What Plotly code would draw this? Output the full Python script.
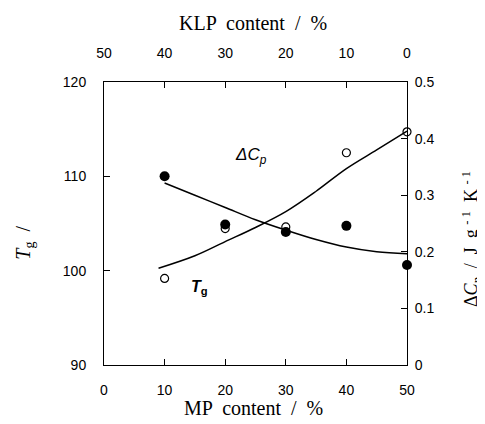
import plotly.graph_objects as go

# Data
mp_content = [10, 20, 30, 40, 50]
tg_values = [110.0, 104.9, 104.1, 104.75, 100.6]
dcp_values = [0.153, 0.241, 0.244, 0.375, 0.412]

# Fitted curves
tg_fit_x = [10, 15, 20, 25, 30, 35, 40, 45, 50]
tg_fit_y = [109.3, 108.0, 106.7, 105.4, 104.3, 103.3, 102.5, 102.0, 101.8]
dcp_fit_x = [9, 15, 20, 25, 30, 35, 40, 45, 50]
dcp_fit_y = [0.171, 0.193, 0.218, 0.243, 0.271, 0.307, 0.347, 0.38, 0.413]

x_ticks = [0, 10, 20, 30, 40, 50]
klp_ticks = [50, 40, 30, 20, 10, 0]
tg_ticks = [90, 100, 110, 120]
dcp_ticks = [0, 0.1, 0.2, 0.3, 0.4, 0.5]
dcp_ticklabels = ["0", "0.1", "0.2", "0.3", "0.4", "0.5"]

fig = go.Figure()

fig.add_trace(go.Scatter(x=tg_fit_x, y=tg_fit_y, mode="lines", line=dict(color="black", width=1.5, shape="spline"),
                         xaxis="x", yaxis="y", showlegend=False, hoverinfo="skip"))
fig.add_trace(go.Scatter(x=dcp_fit_x, y=dcp_fit_y, mode="lines", line=dict(color="black", width=1.5, shape="spline"),
                         xaxis="x", yaxis="y2", showlegend=False, hoverinfo="skip"))
fig.add_trace(go.Scatter(x=mp_content, y=dcp_values, mode="markers",
                         marker=dict(symbol="circle-open", size=8, color="black", line=dict(width=1.2)),
                         xaxis="x", yaxis="y2", showlegend=False, cliponaxis=False))
fig.add_trace(go.Scatter(x=mp_content, y=tg_values, mode="markers",
                         marker=dict(symbol="circle", size=10, color="black"),
                         xaxis="x", yaxis="y", showlegend=False, cliponaxis=False))
# invisible trace to activate top axis
fig.add_trace(go.Scatter(x=klp_ticks, y=[None] * len(klp_ticks), mode="markers",
                         xaxis="x2", yaxis="y", showlegend=False, hoverinfo="skip"))

tickfont = dict(family="Liberation Sans, Arial, sans-serif", size=14, color="black")
serif = "Liberation Serif, Times New Roman, serif"

axis_common = dict(showgrid=False, zeroline=False, showline=True, linecolor="black", linewidth=1,
                   ticks="inside", ticklen=6, tickcolor="black", tickwidth=1, tickfont=tickfont,
                   automargin=False)

fig.update_layout(
    width=477, height=416,
    margin=dict(l=96, r=78, t=74, b=59, autoexpand=False),
    paper_bgcolor="white", plot_bgcolor="white",
    xaxis=dict(range=[0, 50], tickvals=x_ticks, ticklabelstandoff=12, **axis_common),
    xaxis2=dict(range=[50, 0], tickvals=klp_ticks, overlaying="x", side="top", anchor="y",
                ticklabelstandoff=17, **axis_common),
    yaxis=dict(range=[90, 120], tickvals=tg_ticks, ticklabelstandoff=14, **axis_common),
    yaxis2=dict(range=[0, 0.5], tickvals=dcp_ticks, ticktext=dcp_ticklabels, overlaying="y", side="right",
                anchor="x", ticklabelstandoff=4, **axis_common),
    annotations=[
        dict(text="MP  content  /  %", xref="paper", yref="paper", x=(253 - 104) / 303, y=(365 - 408) / 283,
             showarrow=False, font=dict(family=serif, size=20, color="black"), xanchor="center", yanchor="middle"),
        dict(text="KLP  content  /  %", xref="paper", yref="paper", x=(253 - 104) / 303, y=(365 - 23) / 283,
             showarrow=False, font=dict(family=serif, size=20, color="black"), xanchor="center", yanchor="middle"),
        dict(text="<i>T</i><sub>g</sub>  /", xref="paper", yref="paper", x=-0.265, y=0.431, textangle=-90,
             showarrow=False, font=dict(family=serif, size=20, color="black"), xanchor="center", yanchor="middle"),
        dict(text="Δ<i>C</i><sub><i>p</i></sub>  /  J  g <sup>- 1</sup>  K <sup>- 1</sup>", xref="paper", yref="paper",
             x=(471 - 104) / 303, y=0.445, textangle=-90,
             showarrow=False, font=dict(family=serif, size=18, color="black"), xanchor="center", yanchor="middle"),
        dict(text="<b><i>T</i></b><sub><b>g</b></sub>", xref="paper", yref="paper", x=(199 - 104) / 303, y=(365 - 287) / 283,
             showarrow=False, font=dict(family="Liberation Sans, Arial, sans-serif", size=16, color="black"),
             xanchor="center", yanchor="middle"),
        dict(text="<i>ΔC</i><sub><i>p</i></sub>", xref="paper", yref="paper", x=(251 - 104) / 303, y=(365 - 156) / 283,
             showarrow=False, font=dict(family="Liberation Sans, Arial, sans-serif", size=17, color="black"),
             xanchor="center", yanchor="middle"),
    ],
)

fig.write_html("out.html")
